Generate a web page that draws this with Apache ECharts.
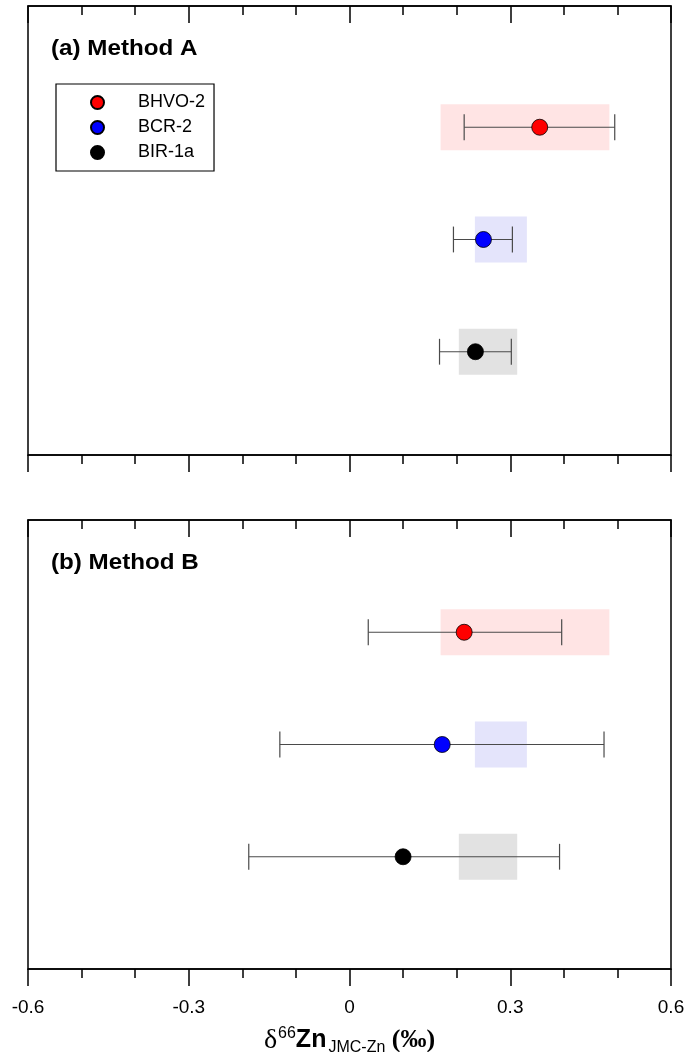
<!DOCTYPE html>
<html>
<head>
<meta charset="utf-8">
<script src="https://cdn.jsdelivr.net/npm/echarts@6/dist/echarts.min.js"></script>
<style>
  html, body { margin: 0; padding: 0; background: #fff; }
  #main { width: 686px; height: 1052px; }
</style>
</head>
<body>
<div id="main"></div>
<script>
// samples and row positions (rows counted from the top of each panel)
const samples = ['BHVO-2', 'BCR-2', 'BIR-1a'];
const rowsA = [1.08, 2.08, 3.08];
const rowsB = [1, 2, 3];

// recommended ranges (shaded boxes)
const refLow = [0.170, 0.234, 0.204];
const refHigh = [0.485, 0.331, 0.313];

// (a) Method A: mean and error bar ends
const meanA = [0.355, 0.250, 0.235];
const lowA = [0.214, 0.194, 0.168];
const highA = [0.495, 0.304, 0.302];

// (b) Method B
const meanB = [0.214, 0.173, 0.100];
const lowB = [0.035, -0.130, -0.188];
const highB = [0.396, 0.475, 0.392];

const xTicks = [-0.6, -0.3, 0, 0.3, 0.6];

const dotColors = ['#ff0000', '#0000ff', '#000000'];
const boxColors = ['#ffe4e4', '#e4e4fb', '#e2e2e2'];
const FONT = 'Liberation Sans';

const chart = echarts.init(document.getElementById('main'));

function xAxisFor(grid, pos, inside, labels) {
  return {
    type: 'value', gridIndex: grid, position: pos,
    min: xTicks[0], max: xTicks[xTicks.length - 1], interval: 0.3,
    axisLine: { show: true, onZero: false, lineStyle: { color: '#000', width: 1.5 } },
    axisTick: { show: true, inside: inside, length: 17, lineStyle: { color: '#000', width: 1.5 } },
    minorTick: { show: true, splitNumber: 3, length: 9, lineStyle: { color: '#000', width: 1.5 } },
    splitLine: { show: false },
    axisLabel: {
      show: labels, margin: 29, color: '#000', fontSize: 19, fontFamily: FONT,
      formatter: v => (Math.abs(v) < 1e-9 ? '0' : String(+v.toFixed(1)))
    }
  };
}

function yAxisFor(grid) {
  return {
    type: 'value', gridIndex: grid, min: 0, max: 4, inverse: true,
    axisLine: { show: false }, axisTick: { show: false },
    axisLabel: { show: false }, splitLine: { show: false }
  };
}

function boxSeries(xi, yi, rows) {
  return {
    type: 'custom', xAxisIndex: xi, yAxisIndex: yi, z: 1, silent: true,
    data: rows.map((r, i) => [refLow[i], refHigh[i], r]),
    renderItem: function (params, api) {
      const p1 = api.coord([api.value(0), api.value(2)]);
      const p2 = api.coord([api.value(1), api.value(2)]);
      const h = api.size([0, 0.41])[1];
      return {
        type: 'rect',
        shape: { x: p1[0], y: p1[1] - h / 2, width: p2[0] - p1[0], height: h },
        style: { fill: boxColors[params.dataIndex] }
      };
    }
  };
}

function errSeries(xi, yi, rows, lo, hi) {
  return {
    type: 'custom', xAxisIndex: xi, yAxisIndex: yi, z: 2, silent: true,
    data: rows.map((r, i) => [lo[i], hi[i], r]),
    renderItem: function (params, api) {
      const p1 = api.coord([api.value(0), api.value(2)]);
      const p2 = api.coord([api.value(1), api.value(2)]);
      const c = api.size([0, 0.115])[1];
      const st = { stroke: '#4a4a4a', lineWidth: 1.2 };
      return {
        type: 'group',
        children: [
          { type: 'line', shape: { x1: p1[0], y1: p1[1], x2: p2[0], y2: p2[1] }, style: st },
          { type: 'line', shape: { x1: p1[0], y1: p1[1] - c, x2: p1[0], y2: p1[1] + c }, style: st },
          { type: 'line', shape: { x1: p2[0], y1: p2[1] - c, x2: p2[0], y2: p2[1] + c }, style: st }
        ]
      };
    }
  };
}

function dotSeries(xi, yi, rows, mean) {
  return samples.map((name, i) => ({
    name: name, type: 'scatter', xAxisIndex: xi, yAxisIndex: yi, z: 3,
    symbol: 'circle', symbolSize: 16,
    itemStyle: { color: dotColors[i], borderColor: '#000', borderWidth: 0.8, opacity: 1 },
    data: [[mean[i], rows[i]]]
  }));
}

const option = {
  backgroundColor: '#fff',
  animation: false,
  grid: [
    { left: 28, right: 15, top: 6, height: 449, outerBoundsMode: 'none',
      show: true, borderColor: '#000', borderWidth: 1.5 },
    { left: 28, right: 15, top: 520, height: 449, outerBoundsMode: 'none',
      show: true, borderColor: '#000', borderWidth: 1.5 }
  ],
  xAxis: [
    xAxisFor(0, 'bottom', false, false),
    xAxisFor(0, 'top', true, false),
    Object.assign(xAxisFor(1, 'bottom', false, true), {
      name: '{d|δ}{sup|66}{zn|Zn}{sub|JMC-Zn}{pm| (‰)}',
      nameLocation: 'middle', nameGap: 56,
      nameTextStyle: {
        color: '#000',
        rich: {
          d: { fontFamily: 'Liberation Serif', fontSize: 28, color: '#000' },
          sup: { fontFamily: FONT, fontSize: 16, color: '#000', padding: [0, 0, 13, 1] },
          zn: { fontFamily: FONT, fontSize: 25, fontWeight: 'bold', color: '#000' },
          sub: { fontFamily: FONT, fontSize: 16, color: '#000', padding: [15, 0, 0, 2] },
          pm: { fontFamily: 'Liberation Serif', fontSize: 26, fontWeight: 'bold', color: '#000' }
        }
      }
    }),
    xAxisFor(1, 'top', true, false)
  ],
  yAxis: [yAxisFor(0), yAxisFor(1)],
  legend: {
    data: samples, orient: 'vertical', left: 56, top: 84,
    backgroundColor: '#fff', borderColor: '#000', borderWidth: 1.2,
    padding: [9, 9, 9, 34], itemWidth: 13, itemHeight: 13, itemGap: 6,
    icon: 'circle', selectedMode: false,
    textStyle: { fontSize: 18, lineHeight: 19, color: '#000', fontFamily: FONT, padding: [0, 0, 0, 29] }
  },
  graphic: [
    { type: 'text', x: 51, y: 38, scaleX: 1.1, z: 10,
      style: { text: '(a) Method A', fontSize: 22, fontWeight: 'bold', fontFamily: FONT, fill: '#000', verticalAlign: 'top' } },
    { type: 'text', x: 51, y: 552, scaleX: 1.1, z: 10,
      style: { text: '(b) Method B', fontSize: 22, fontWeight: 'bold', fontFamily: FONT, fill: '#000', verticalAlign: 'top' } }
  ],
  series: [
    boxSeries(0, 0, rowsA),
    errSeries(0, 0, rowsA, lowA, highA),
    ...dotSeries(0, 0, rowsA, meanA),
    boxSeries(2, 1, rowsB),
    errSeries(2, 1, rowsB, lowB, highB),
    ...dotSeries(2, 1, rowsB, meanB)
  ]
};

chart.setOption(option);
</script>
</body>
</html>
